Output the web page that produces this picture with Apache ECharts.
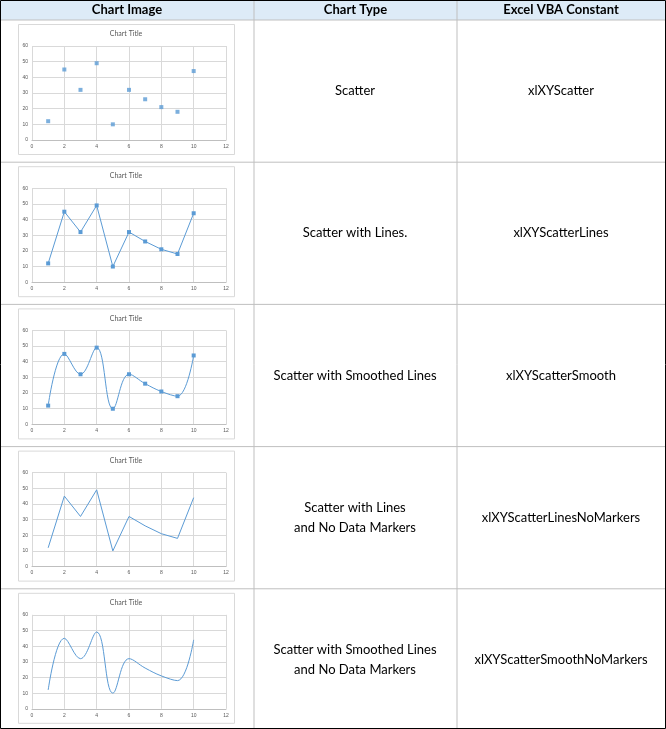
<!DOCTYPE html><html><head><meta charset="utf-8">
<script src="https://cdn.jsdelivr.net/npm/echarts@6/dist/echarts.min.js"></script>
<style>html,body{margin:0;padding:0;background:#fff}#c{width:666px;height:729px}</style></head><body><div id="c"></div>
<script>
const xs=[1,2,3,4,5,6,7,8,9,10];
const ys=[12,45,32,49,10,32,26,21,18,44];
const headers=['Chart Image','Chart Type','Excel VBA Constant'];
const types=['Scatter','Scatter with Lines.','Scatter with Smoothed Lines','Scatter with Lines\nand No Data Markers','Scatter with Smoothed Lines\nand No Data Markers'];
const consts=['xlXYScatter','xlXYScatterLines','xlXYScatterSmooth','xlXYScatterLinesNoMarkers','xlXYScatterSmoothNoMarkers'];
const modes=[{line:false,mk:true,sm:false},{line:true,mk:true,sm:false},{line:true,mk:true,sm:true},{line:true,mk:false,sm:false},{line:true,mk:false,sm:true}];
const F='Lato, "Open Sans", sans-serif';
const rowH=142.2, top0=20;
const grids=[],xA=[],yA=[],series=[],g=[];
g.push({type:'rect',shape:{x:0,y:0,width:666,height:20},style:{fill:'#DDEBF7'}});
const colX=[0,254,457,665];
headers.forEach((h,i)=>g.push({type:'text',x:(colX[i]+colX[i+1])/2,y:10,style:{text:h,font:'bold 13px '+F,fill:'#000',align:'center',verticalAlign:'middle'}}));
for(let r=0;r<=5;r++){const y=r==0?20:top0+r*rowH;g.push({type:'line',shape:{x1:0,y1:y,x2:666,y2:y},style:{stroke:'#bfbfbf',lineWidth:1}});}
[254,457].forEach(x=>g.push({type:'line',shape:{x1:x,y1:0,x2:x,y2:729},style:{stroke:'#bfbfbf',lineWidth:1}}));
g.push({type:'rect',shape:{x:0.5,y:0.5,width:665,height:728},style:{fill:'none',stroke:'#000',lineWidth:1}});
modes.forEach((m,i)=>{
  const oy=top0+i*rowH;
  g.push({type:'rect',shape:{x:18.5,y:oy+4.5,width:216,height:130},style:{fill:'#fff',stroke:'#d9d9d9',lineWidth:1},z:-1});
  g.push({type:'text',x:126,y:oy+14,style:{text:'Chart Title',font:'7px '+F,fill:'#595959',align:'center',verticalAlign:'middle'}});
  g.push({type:'text',x:355,y:oy+rowH/2,style:{text:types[i],font:'13px '+F,fill:'#000',align:'center',verticalAlign:'middle',lineHeight:20}});
  g.push({type:'text',x:561,y:oy+rowH/2,style:{text:consts[i],font:'13px '+F,fill:'#000',align:'center',verticalAlign:'middle'}});
  grids.push({left:32,width:194,top:oy+26,height:94});
  xA.push({type:'value',gridIndex:i,min:0,max:12,interval:2,axisLine:{show:true,lineStyle:{color:'#bfbfbf'}},axisTick:{show:false},splitLine:{lineStyle:{color:'#d9d9d9'}},axisLabel:{fontSize:5,color:'#595959',margin:4}});
  yA.push({type:'value',gridIndex:i,min:0,max:60,interval:10,axisLine:{show:false},axisTick:{show:false},splitLine:{lineStyle:{color:'#d9d9d9'}},axisLabel:{fontSize:5,color:'#595959',margin:4}});
  series.push({type:m.line?'line':'scatter',xAxisIndex:i,yAxisIndex:i,data:xs.map((x,k)=>[x,ys[k]]),smooth:m.sm?0.4:false,
    symbol:m.mk?'rect':'none',symbolSize:m.mk?4:0,showSymbol:m.mk,itemStyle:{color:'#5B9BD5'},lineStyle:{color:'#5B9BD5',width:1},animation:false});
});
const ch=echarts.init(document.getElementById('c'));
ch.setOption({animation:false,grid:grids,xAxis:xA,yAxis:yA,series,graphic:g});
</script></body></html>
